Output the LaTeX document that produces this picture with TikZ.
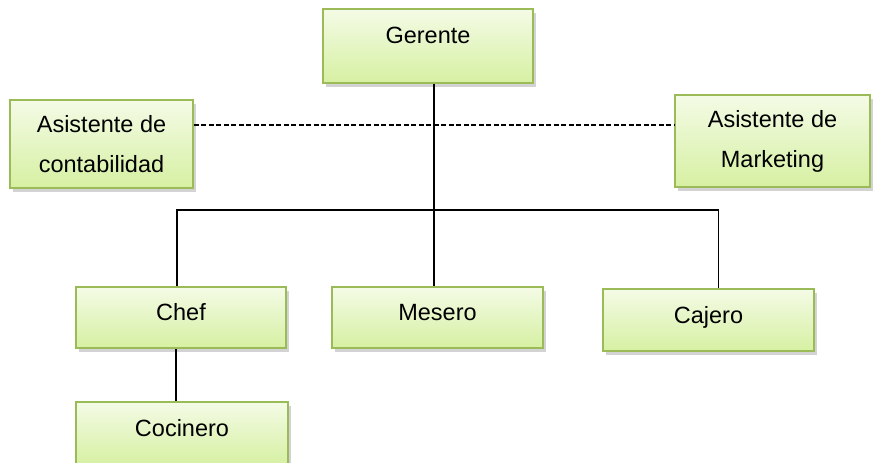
\documentclass[tikz,border=0pt]{standalone}
\usepackage{fontspec}
\setmainfont{Liberation Sans}
\usetikzlibrary{positioning,shadows}
\definecolor{boxtop}{RGB}{244,251,230}
\definecolor{boxbot}{RGB}{214,240,162}
\definecolor{boxline}{RGB}{155,187,89}
\tikzset{
  post/.style={rectangle,draw=boxline,line width=1.8pt,top color=boxtop,bottom color=boxbot,
    inner sep=0pt,align=center,font={\fontsize{23.5}{40}\selectfont},
    drop shadow={shadow xshift=2.5pt,shadow yshift=-3.5pt,opacity=0.35}},
  single/.style={text height=17pt},
  link/.style={line width=1.6pt,black},
  staff/.style={line width=1.2pt,black,dash pattern=on 5pt off 2.5pt},
}
\begin{document}
\begin{tikzpicture}[x=1pt,y=-1pt]
    \useasboundingbox (0,0) rectangle (873,463);
    % ---------------- top ----------------
    \node[post,single,text depth=23pt,minimum width=210pt,minimum height=74pt] (gerente) at (428,46) {Gerente};
    \node[post,minimum width=183pt,minimum height=88pt] (contab) at (101.5,144) {Asistente de\\contabilidad};
    \node[post,minimum width=195pt,minimum height=92pt] (marketing) at (772.5,141) {Asistente de\\Marketing};
    % ---------------- staff ----------------
    \node[post,single,text depth=12pt,minimum width=210pt,minimum height=61pt] (chef) at (181,317.5) {Chef};
    \node[post,single,text depth=12pt,minimum width=211pt,minimum height=61pt] (mesero) at (437.5,317.5) {Mesero};
    \node[post,single,text depth=11pt,minimum width=211pt,minimum height=62pt] (cajero) at (708.5,320) {Cajero};
    \node[post,single,text depth=12pt,minimum width=212pt,minimum height=63pt] (cocinero) at (182,433.5) {Cocinero};
    % ---------------- lines ----------------
    \coordinate (bus) at (434,210);
    \draw[staff] ([yshift=19pt]contab.east) -- ([yshift=19pt]contab.east -| marketing.west);
    \draw[link] ([xshift=6pt]gerente.south) -- ([xshift=6pt]gerente.south |- mesero.north);
    \draw[link] ([xshift=-4pt]chef.north) |- (bus) -| ([xshift=10pt]cajero.north);
    \draw[link] ([xshift=-5pt]chef.south) -- ([xshift=-5pt]chef.south |- cocinero.north);
\end{tikzpicture}
\end{document}
